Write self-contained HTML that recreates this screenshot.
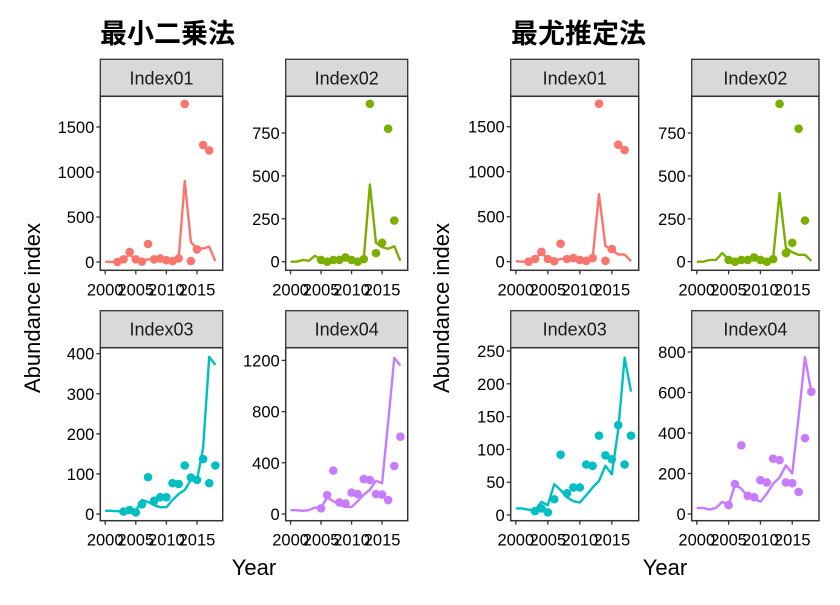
<!DOCTYPE html>
<html><head><meta charset="utf-8">
<style>
body{margin:0;background:#fff;}
svg text{font-family:"Liberation Sans","Noto Sans CJK JP",sans-serif;}
</style></head>
<body>
<svg id="chart" width="840" height="600" viewBox="0 0 840 600" xmlns="http://www.w3.org/2000/svg">
<rect width="840" height="600" fill="#fff"/>
<text x="100" y="43" font-size="27" font-weight="bold" fill="#000">最小二乗法</text>
<text x="511" y="43" font-size="27" font-weight="bold" fill="#000">最尤推定法</text>
<text transform="translate(40,308) rotate(-90)" text-anchor="middle" font-size="22" fill="#000">Abundance index</text>
<text transform="translate(449,308) rotate(-90)" text-anchor="middle" font-size="22" fill="#000">Abundance index</text>
<text x="254" y="575" text-anchor="middle" font-size="22" fill="#000">Year</text>
<text x="665" y="575" text-anchor="middle" font-size="22" fill="#000">Year</text>
<g id="panels"></g>
</svg>
<script>
const years = [2000,2001,2002,2003,2004,2005,2006,2007,2008,2009,2010,2011,2012,2013,2014,2015,2016,2017,2018];
const xTicks = [2000,2005,2010,2015];
// observed points
const obsYears01 = [2002,2003,2004,2005,2006,2007,2008,2009,2010,2011,2012,2013,2014,2015,2016,2017];
const obs01 = [0,30,110,30,5,200,30,40,20,10,40,1756,10,140,1300,1240];
const obsYears02 = [2005,2006,2007,2008,2009,2010,2011,2012,2013,2014,2015,2016,2017];
const obs02 = [10,0,10,10,25,10,0,15,920,50,110,775,240];
const obsYears03 = [2003,2004,2005,2006,2007,2008,2009,2010,2011,2012,2013,2014,2015,2016,2017,2018];
const obs03 = [6,10,4,24,92,33,42,42,77,75,121,91,85,137,77,121];
const obsYears04 = [2005,2006,2007,2008,2009,2010,2011,2012,2013,2014,2015,2016,2017,2018];
const obs04 = [44,148,339,90,83,167,156,273,266,156,152,109,375,604];
// fitted lines: least squares
const ls01 = [5,0,10,40,80,30,10,30,30,40,20,20,40,900,220,150,150,170,10];
const ls02 = [0,0,10,5,35,10,0,5,5,30,10,5,20,450,110,85,75,90,5];
const ls03 = [8,8,7,6,5,8,35,30,22,17,17,35,50,60,85,85,165,392,372];
const ls04 = [30,30,25,30,50,50,130,100,70,55,55,100,150,190,260,240,720,1220,1160];
// fitted lines: maximum likelihood
const ml01 = [5,0,5,30,100,30,10,30,30,40,20,15,40,750,175,130,80,80,5];
const ml02 = [0,0,10,10,50,15,0,5,5,30,10,5,20,400,80,55,40,40,5];
const ml03 = [10,10,8,7,20,15,47,38,27,21,19,30,42,52,75,62,130,240,188];
const ml04 = [30,30,22,30,60,45,145,125,85,75,60,100,150,180,240,200,480,775,600];
// y tick labels
const ticks01 = [0,500,1000,1500];
const ticks02 = [0,250,500,750];
const ticksL03 = [0,100,200,300,400];
const ticksL04 = [0,400,800,1200];
const ticksR03 = [0,50,100,150,200,250];
const ticksR04 = [0,200,400,600,800];

const colors = ["#F8766D","#7CAE00","#00BFC4","#C77CFF"];
const NS = "http://www.w3.org/2000/svg";
function mk(tag, attrs, parent){const e=document.createElementNS(NS,tag);for(const k in attrs)e.setAttribute(k,attrs[k]);parent.appendChild(e);return e;}

const panels = [
 {name:"left-index01",title:"Index01",l:100.3,r:222.7,t:96.3,b:270.3,y0:262,k:0.09,ticks:ticks01,line:ls01,oy:obsYears01,ov:obs01,c:0},
 {name:"left-index02",title:"Index02",l:285.7,r:407.7,t:96.3,b:270.3,y0:261.7,k:0.1716,ticks:ticks02,line:ls02,oy:obsYears02,ov:obs02,c:1},
 {name:"left-index03",title:"Index03",l:100.3,r:222.7,t:347.7,b:520.7,y0:514,k:0.4008,ticks:ticksL03,line:ls03,oy:obsYears03,ov:obs03,c:2},
 {name:"left-index04",title:"Index04",l:285.7,r:407.7,t:347.7,b:520.7,y0:514,k:0.128,ticks:ticksL04,line:ls04,oy:obsYears04,ov:obs04,c:3},
 {name:"right-index01",title:"Index01",l:510.7,r:638.7,t:96.3,b:270.3,y0:261.7,k:0.09,ticks:ticks01,line:ml01,oy:obsYears01,ov:obs01,c:0},
 {name:"right-index02",title:"Index02",l:691.7,r:819,t:96.3,b:270.3,y0:261.7,k:0.1716,ticks:ticks02,line:ml02,oy:obsYears02,ov:obs02,c:1},
 {name:"right-index03",title:"Index03",l:510.7,r:638.7,t:347.7,b:520.7,y0:515,k:0.656,ticks:ticksR03,line:ml03,oy:obsYears03,ov:obs03,c:2},
 {name:"right-index04",title:"Index04",l:691.7,r:819,t:347.7,b:520.7,y0:514,k:0.2025,ticks:ticksR04,line:ml04,oy:obsYears04,ov:obs04,c:3}
];
const root = document.getElementById("panels");
panels.forEach(p=>{
  const g = mk("g",{},root);
  
  
  const xs = yr => p.l + (yr-1999.2)/20*(p.r-p.l);
  const ys = v => p.y0 - v*p.k;
  const st = mk("rect",{x:p.l,y:p.t-37,width:p.r-p.l,height:37,fill:"#D9D9D9",stroke:"#333","stroke-width":1.3},g);
  
  
  const stt = mk("text",{x:(p.l+p.r)/2,y:p.t-12,"text-anchor":"middle","font-size":"18",fill:"#1a1a1a"},g);
  stt.textContent = p.title;
  
  
  const d = years.map((yr,i)=>(i?"L":"M")+xs(yr).toFixed(2)+","+ys(p.line[i]).toFixed(2)).join("");
  const ln = mk("path",{d:d,fill:"none",stroke:colors[p.c],"stroke-width":2.4,"stroke-linejoin":"round"},g);
  
  
  p.oy.forEach((yr,i)=>{
    const pt = mk("circle",{cx:xs(yr),cy:ys(p.ov[i]),r:4.3,fill:colors[p.c]},g);
    
    
  });
  const bd = mk("rect",{x:p.l,y:p.t,width:p.r-p.l,height:p.b-p.t,fill:"none",stroke:"#333","stroke-width":1.5},g);
  
  
  p.ticks.forEach(v=>{
    const y = ys(v);
    mk("line",{x1:p.l-4,x2:p.l,y1:y,y2:y,stroke:"#333","stroke-width":1.3},g);
    const t = mk("text",{x:p.l-6,y:y+6,"text-anchor":"end","font-size":"16.5",fill:"#000"},g);
    t.textContent = v;
    
    
  });
  xTicks.forEach(yr=>{
    const x = xs(yr);
    mk("line",{x1:x,x2:x,y1:p.b,y2:p.b+4,stroke:"#333","stroke-width":1.3},g);
    const t = mk("text",{x:x,y:p.b+25,"text-anchor":"middle","font-size":"16.5",fill:"#000"},g);
    t.textContent = yr;
    
    
  });
});
</script>
</body></html>
